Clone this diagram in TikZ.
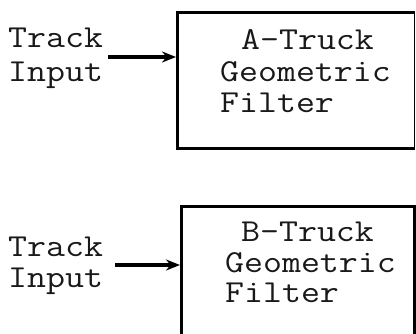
\documentclass[tikz,border=0pt]{standalone}
\usepackage{fontspec}
\usepackage{graphicx}
\usetikzlibrary{arrows.meta}
\newcommand\twtxt[1]{\scalebox{1.15}[1]{#1}}
\begin{document}
\begin{tikzpicture}[x=1pt,y=-1pt,
  lbl/.style={font=\ttfamily\fontsize{32}{32}\selectfont, inner sep=0pt, anchor=base west, text=black!90},
  box/.style={draw, line width=3pt, inner sep=0pt, anchor=north west},
  feed/.style={line width=3.6pt, -{Stealth[length=14pt,width=11pt]}}]
\useasboundingbox (0,0) rectangle (416,334);
\fill[white] (0,0) rectangle (416,334);
\clip (0,0) rectangle (416,334);
% A-Truck
\node[box, minimum width=238pt, minimum height=136pt] (boxA) at (176,11) {};
\draw[white, line width=3.4pt] (boxA.north east) -- (boxA.south east);
\draw[black!35, line width=1pt, dashed] (boxA.north east) -- (boxA.south east);
\node[lbl] (trA) at (8,48) {\twtxt{Track}};
\node[lbl] (inA) at (8,82) {\twtxt{Input}};
\node[lbl] (a1) at (241,50) {\twtxt{A-Truck}};
\node[lbl] (a2) at (220,82) {\twtxt{Geometric}};
\node[lbl] (a3) at (220,113) {\twtxt{Filter}};
\coordinate (sA) at (108,57);
\draw[feed] (sA) -- (boxA.west |- sA);
% B-Truck
\node[box, minimum width=233pt, minimum height=160pt] (boxB) at (180,205) {};
\node[lbl] (trB) at (8,257) {\twtxt{Track}};
\node[lbl] (inB) at (8,288) {\twtxt{Input}};
\node[lbl] (b1) at (241,242) {\twtxt{B-Truck}};
\node[lbl] (b2) at (225,273) {\twtxt{Geometric}};
\node[lbl] (b3) at (225,303) {\twtxt{Filter}};
\coordinate (sB) at (115,265);
\draw[feed] (sB) -- (boxB.west |- sB);
\end{tikzpicture}
\end{document}
